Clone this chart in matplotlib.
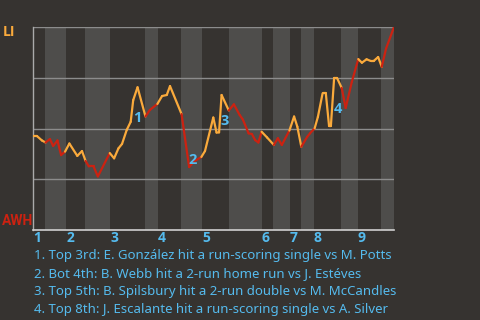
import matplotlib
matplotlib.use('Agg')
import matplotlib.pyplot as plt
from matplotlib.collections import LineCollection

# game progress (0-100) and LI win probability (%)
progress = [0, 1.0, 2.4, 3.4, 4.6, 5.5, 6.7, 7.7, 8.8, 10.0, 12.2, 13.5, 14.5, 15.4, 16.7, 17.9,
            21.2, 22.4, 23.6, 24.6, 25.9, 27.0, 27.7, 28.9, 31.1, 32.3, 34.4, 35.7, 37.0, 37.9,
            41.1, 43.2, 44.5, 46.6, 47.6, 49.9, 50.8, 51.5, 52.2, 54.2, 55.6, 57.2, 58.1, 59.7,
            60.6, 61.5, 62.4, 63.3, 64.8, 66.7, 67.8, 68.9, 71.0, 72.3, 73.2, 74.3, 75.9, 76.7,
            78.0, 78.9, 80.2, 81.1, 82.0, 82.5, 83.4, 84.2, 85.5, 86.6, 88.3, 90.1, 91.1, 92.4,
            93.5, 94.4, 95.6, 96.6, 97.8, 100]
win_prob = [46.3, 46.3, 44.1, 43.1, 44.8, 41.4, 44.1, 36.9, 38.6, 42.6, 36.5, 38.9, 34.0, 31.3, 31.3, 26.4,
            37.9, 35.3, 40.2, 42.4, 49.3, 53.3, 64.0, 70.3, 55.9, 59.1, 62.1, 66.0, 66.5, 70.9,
            57.1, 31.0, 33.7, 36.0, 38.9, 55.4, 48.0, 48.1, 66.5, 58.9, 61.9, 56.7, 54.4, 47.6,
            47.3, 44.3, 43.1, 48.4, 45.6, 41.9, 45.2, 41.9, 49.0, 55.9, 50.9, 41.0, 45.8, 47.6,
            50.1, 55.7, 67.3, 67.3, 51.2, 51.2, 74.9, 74.9, 70.0, 60.1, 72.9, 84.2, 82.4, 84.1,
            83.3, 83.3, 85.2, 80.4, 89.4, 100]

# start of each half inning (top 1st, bot 1st, top 2nd, ...)
half_innings = [0, 3.2, 9.1, 14.3, 21.3, 31.0, 34.6, 40.9, 46.8, 54.3, 63.4, 66.4, 71.1, 74.2,
                77.8, 85.3, 90.0, 96.3, 100]
inning_labels = ['1', '2', '3', '4', '5', '6', '7', '8', '9']

# key moments
moment_x = [28.7, 44.3, 53.1, 84.4]
moment_y = [55.0, 34.5, 53.7, 59.6]
moments = [
    '1. Top 3rd: E. González hit a run-scoring single vs M. Potts',
    '2. Bot 4th: B. Webb hit a 2-run home run vs J. Estéves',
    '3. Top 5th: B. Spilsbury hit a 2-run double vs M. McCandles',
    '4. Top 8th: J. Escalante hit a run-scoring single vs A. Silver',
]

bg = '#363330'
band = '#4e4d4b'
orange = '#faaa3c'
red = '#cc2211'
blue = '#55bbee'
bold_font = ['Open Sans', 'DejaVu Sans']

plt.rcParams['font.family'] = ['Noto Sans', 'DejaVu Sans']

fig = plt.figure(figsize=(4.8, 3.2), dpi=100, facecolor=bg)
ax = fig.add_axes([33.3 / 480, 90 / 320, 360.7 / 480, 203 / 320])
ax.set_facecolor(bg)
ax.set_xlim(0, 100)
ax.set_ylim(0, 100)

# bottom half innings are shaded
for i in range(1, len(half_innings) - 1, 2):
    ax.axvspan(half_innings[i], half_innings[i + 1], color=band, lw=0, zorder=0)

for g in [25, 50, 75, 100]:
    ax.axhline(g, color='#8c8c8c', lw=1, zorder=1)


def batting_top(x):
    k = 0
    for i in range(len(half_innings) - 1):
        if half_innings[i] <= x:
            k = i
    return k % 2 == 0


segs = []
cols = []
for i in range(len(progress) - 1):
    segs.append([(progress[i], win_prob[i]), (progress[i + 1], win_prob[i + 1])])
    mid = (progress[i] + progress[i + 1]) / 2
    cols.append(orange if batting_top(mid) else red)
ax.add_collection(LineCollection(segs, colors=cols, linewidths=1.6, zorder=3,
                                 capstyle='round', joinstyle='round'))

for i in range(len(moment_x)):
    ax.text(moment_x[i], moment_y[i], str(i + 1), color=blue, fontsize=10.5, fontweight='bold',
            family=bold_font, ha='center', va='center', zorder=4)

for s in ['top', 'right']:
    ax.spines[s].set_visible(False)
ax.spines['left'].set_color('#aaaaaa')
ax.spines['left'].set_linewidth(1)
ax.spines['bottom'].set_color('#d0d0d0')
ax.spines['bottom'].set_linewidth(1.2)

ax.set_yticks([])
ax.set_xticks(half_innings[0:-1:2])
ax.set_xticklabels(inning_labels, color=blue, fontsize=10, fontweight='bold',
                   family=bold_font, ha='left')
ax.tick_params(axis='x', length=0, pad=1)

fig.text(3 / 480, 1 - 32.5 / 320, 'LI', color=orange, fontsize=10, fontweight='bold',
         family=bold_font, ha='left', va='center')
fig.text(2 / 480, 1 - 221 / 320, 'AWH', color=red, fontsize=10, fontweight='bold',
         family=['Roboto', 'DejaVu Sans'], ha='left', va='center')

for i, line in enumerate(moments):
    fig.text(34 / 480, 1 - (259.5 + 18 * i) / 320, line, color=blue, fontsize=9.5,
             ha='left', va='baseline')

fig.savefig('out.png', dpi=100, facecolor=bg)
